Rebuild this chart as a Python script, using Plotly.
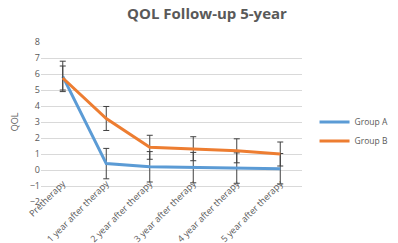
import plotly.graph_objects as go

categories = ["Pretherapy", "1 year after therapy", "2 year after therapy",
              "3 year after therapy", "4 year after therapy", "5 year after therapy"]
group_a = [5.85, 0.4, 0.2, 0.15, 0.12, 0.08]
group_a_err = [0.95, 0.95, 0.95, 0.95, 0.95, 0.95]
group_b = [5.75, 3.22, 1.42, 1.33, 1.2, 1.0]
group_b_err = [0.75, 0.75, 0.75, 0.75, 0.75, 0.75]
y_ticks = [-2, -1, 0, 1, 2, 3, 4, 5, 6, 7, 8]

err_style = dict(type="data", visible=True, color="#404040", thickness=1, width=3)

fig = go.Figure()
fig.add_trace(go.Scatter(x=categories, y=group_a, name="Group A", mode="lines",
                         line=dict(color="#5b9bd5", width=3),
                         error_y=dict(array=group_a_err, **err_style)))
fig.add_trace(go.Scatter(x=categories, y=group_b, name="Group B", mode="lines",
                         line=dict(color="#ed7d31", width=3),
                         error_y=dict(array=group_b_err, **err_style)))

fig.update_layout(
    width=398, height=243,
    margin=dict(l=33, r=81, t=34, b=49),
    paper_bgcolor="white", plot_bgcolor="white",
    font=dict(family="Open Sans, DejaVu Sans, sans-serif", color="#595959", size=9),
    title=dict(text="<b>QOL Follow-up 5-year</b>", x=0.5, xanchor="center",
               y=1.0, yanchor="top", font=dict(size=15, color="#595959")),
    showlegend=True,
    legend=dict(x=1.048, y=0.59, xanchor="left", yanchor="top",
                font=dict(size=8.5, color="#595959"), bgcolor="rgba(0,0,0,0)",
                itemwidth=30),
    xaxis=dict(type="category", range=[-0.5, 5.5], tickangle=-45, showgrid=False,
               showline=False, ticks="", anchor="free", position=0.165,
               tickfont=dict(size=9, color="#595959"), automargin=False),
    yaxis=dict(range=[-2, 8], tickvals=y_ticks, showgrid=True, gridcolor="#d9d9d9",
               gridwidth=1, zeroline=False, showline=False, ticks="",
               tickfont=dict(size=9, color="#595959"),
               title=dict(text="QOL", font=dict(size=9, color="#595959"), standoff=15),
               automargin=False),
)

fig.write_html("out.html")
